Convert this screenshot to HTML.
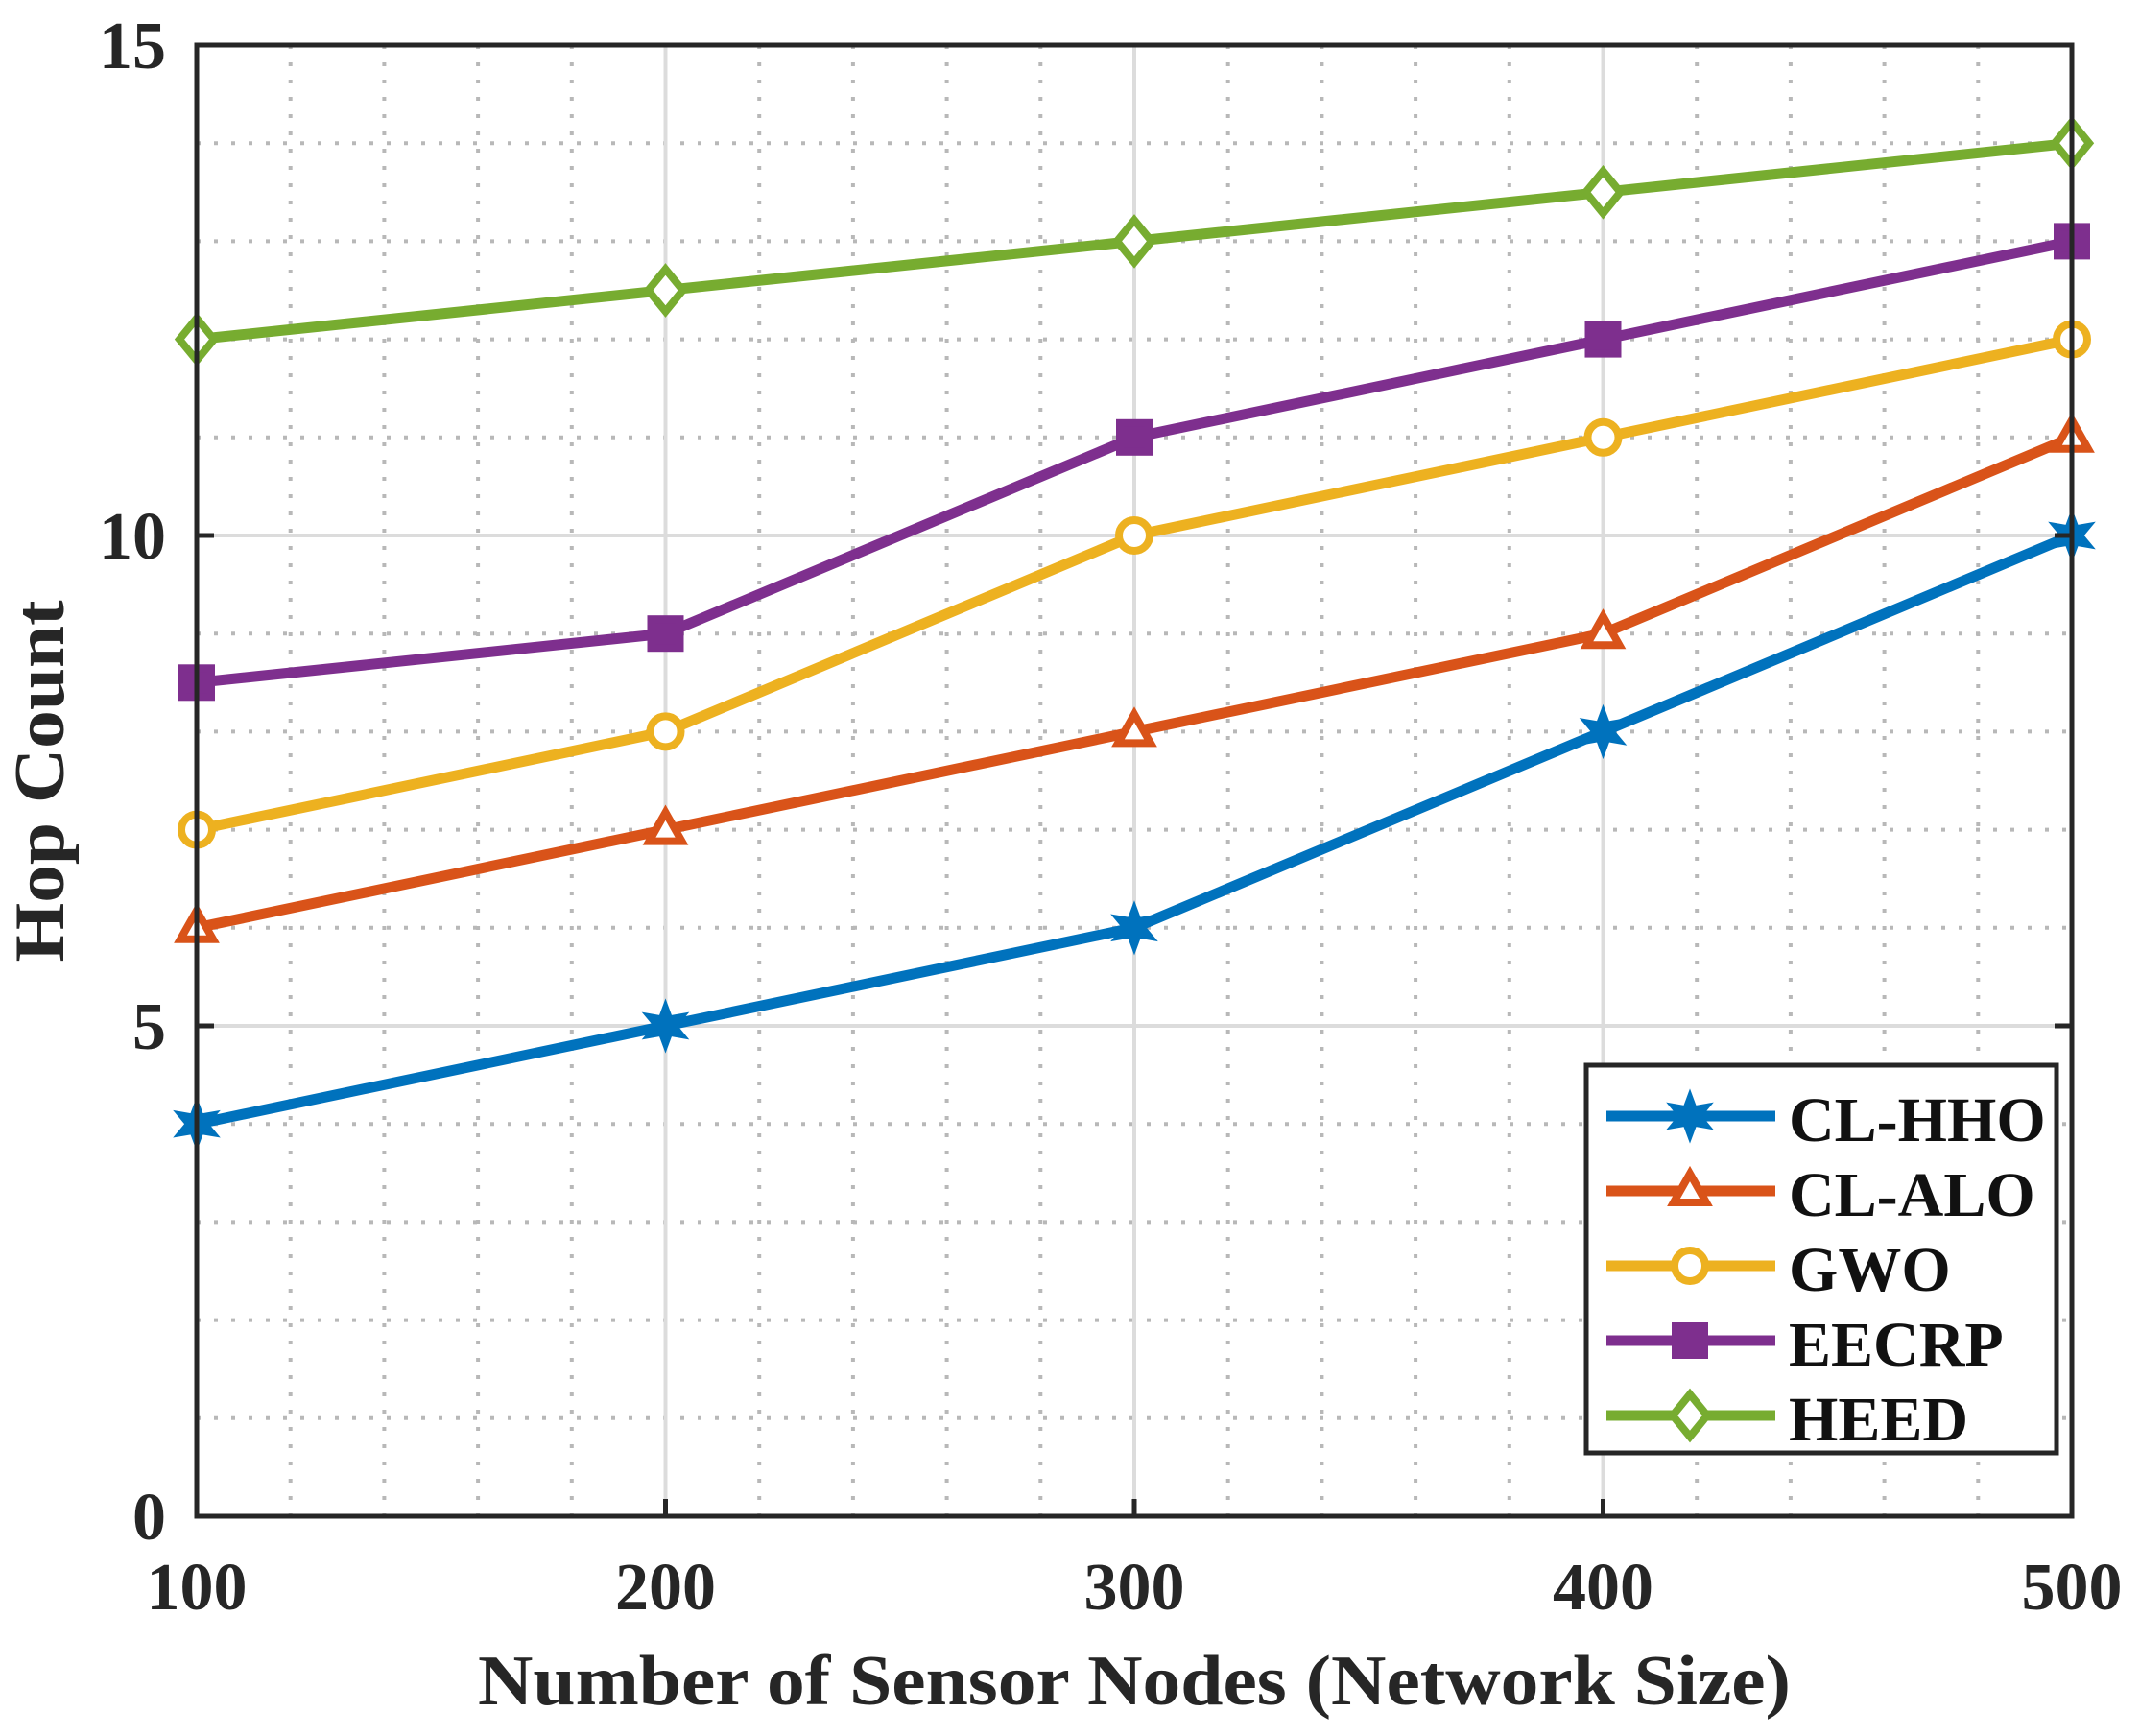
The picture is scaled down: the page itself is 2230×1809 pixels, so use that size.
<!DOCTYPE html>
<html><head><meta charset="utf-8"><style>
html,body{margin:0;padding:0;background:#fff;}
svg{display:block;font-family:"Liberation Serif",serif;font-weight:bold;}
</style></head><body>
<svg id="chart" width="2230" height="1809" viewBox="0 0 2230 1809">
<g id="grid"></g>
<g id="series"></g>
<rect x="205" y="47" width="1954" height="1533" fill="none" stroke="#262626" stroke-width="5"/>
<g id="ticks"></g>
<text x="1182" y="1776" font-size="74" text-anchor="middle" fill="#262626" textLength="1368" lengthAdjust="spacingAndGlyphs">Number of Sensor Nodes (Network Size)</text>
<text transform="translate(66,814) rotate(-90)" font-size="74" text-anchor="middle" fill="#262626" textLength="377" lengthAdjust="spacingAndGlyphs">Hop Count</text>
<g id="legend"></g>
</svg>
<script>
const categories=[100,200,300,400,500];
const seriesNames=["CL-HHO","CL-ALO","GWO","EECRP","HEED"];
const hhoValues=[4,5,6,8,10];
const aloValues=[6,7,8,9,11];
const gwoValues=[7,8,10,11,12];
const eecrpValues=[8.5,9,11,12,13];
const heedValues=[12,12.5,13,13.5,14];
const yTicks=[0,5,10,15];
const xTicks=[100,200,300,400,500];

const NS="http://www.w3.org/2000/svg";
const L=205,R=2159,T=47,B=1580;
const xs=v=>L+(v-100)/400*(R-L);
const ys=v=>B-v/15*(B-T);
function mk(tag,attrs,parent){const e=document.createElementNS(NS,tag);for(const k in attrs)e.setAttribute(k,attrs[k]);parent.appendChild(e);return e;}
const grid=document.getElementById('grid');
for(let v=120;v<500;v+=20){if(v%100===0)continue;
 const l=mk('line',{x1:xs(v),x2:xs(v),y1:T,y2:B,stroke:'#b8b8b8','stroke-width':4,'stroke-dasharray':'4 14'},grid);
 
 }
for(let v=1;v<15;v++){if(v%5===0)continue;
 const l=mk('line',{x1:L,x2:R,y1:ys(v),y2:ys(v),stroke:'#b8b8b8','stroke-width':4,'stroke-dasharray':'4 14'},grid);
 
 }
xTicks.forEach(v=>{const l=mk('line',{x1:xs(v),x2:xs(v),y1:T,y2:B,stroke:'#dcdcdc','stroke-width':4},grid);
 
 });
yTicks.forEach(v=>{const l=mk('line',{x1:L,x2:R,y1:ys(v),y2:ys(v),stroke:'#dcdcdc','stroke-width':4},grid);
 
 });
const ticks=document.getElementById('ticks');
xTicks.forEach(v=>{
 const m=mk('line',{x1:xs(v),x2:xs(v),y1:B,y2:B-18,stroke:'#262626','stroke-width':5},ticks);
 
 
 const t=mk('text',{x:xs(v),y:1677,'font-size':70,'text-anchor':'middle',fill:'#262626'},ticks);t.textContent=v;
 
 });
yTicks.forEach(v=>{
 const m=mk('line',{x1:L,x2:L+18,y1:ys(v),y2:ys(v),stroke:'#262626','stroke-width':5},ticks);
 
 
 const m2=mk('line',{x1:R,x2:R-18,y1:ys(v),y2:ys(v),stroke:'#262626','stroke-width':5},ticks);
 
 
 const t=mk('text',{x:173,y:ys(v)+24,'font-size':70,'text-anchor':'end',fill:'#262626'},ticks);t.textContent=v;
 
 });

const colors=['#0072BD','#D95319','#EDB120','#7E2F8E','#77AC30'];
const shapes=['star','tri','circ','sq','dia'];
function marker(shape,x,y,c,parent){
 let e;
 if(shape==='star'){let p=[];for(let i=0;i<12;i++){const r=i%2?9:20,a=Math.PI/6*i-Math.PI/2;p.push((x+r*Math.cos(a)).toFixed(1)+','+(y+r*Math.sin(a)).toFixed(1));}
  e=mk('polygon',{points:p.join(' '),fill:c,stroke:c,'stroke-width':6},parent);}
 else if(shape==='tri')e=mk('polygon',{points:`${x},${y-18} ${x+17},${y+12} ${x-17},${y+12}`,fill:'#fff',stroke:c,'stroke-width':8},parent);
 else if(shape==='circ')e=mk('circle',{cx:x,cy:y,r:16,fill:'#fff',stroke:c,'stroke-width':8},parent);
 else if(shape==='sq')e=mk('rect',{x:x-15,y:y-15,width:30,height:30,fill:c,stroke:c,'stroke-width':8},parent);
 else e=mk('polygon',{points:`${x},${y-22} ${x+18},${y} ${x},${y+22} ${x-18},${y}`,fill:'#fff',stroke:c,'stroke-width':8},parent);
 return e;}
const sg=document.getElementById('series');
const allVals=[hhoValues,aloValues,gwoValues,eecrpValues,heedValues];
allVals.forEach((vals,si)=>{
 const g=mk('g',{},sg);
 
 
 const pl=mk('polyline',{points:vals.map((v,i)=>xs(categories[i])+','+ys(v)).join(' '),fill:'none',stroke:colors[si],'stroke-width':11,'stroke-linejoin':'round'},g);
 
 
 vals.forEach((v,i)=>{const m=marker(shapes[si],xs(categories[i]),ys(v),colors[si],g);
  
  });
});
const lg=document.getElementById('legend');
const box=mk('rect',{x:1653,y:1110,width:490,height:404,fill:'#fff',stroke:'#262626','stroke-width':5},lg);


seriesNames.forEach((n,i)=>{
 const y=1163+i*78;
 const g=mk('g',{},lg);
 
 
 mk('line',{x1:1674,x2:1850,y1:y,y2:y,stroke:colors[i],'stroke-width':11},g);
 marker(shapes[i],1761,y,colors[i],g);
 const t=mk('text',{x:1864,y:y+26,'font-size':66,fill:'#111'},g);t.textContent=n;
});
</script>
</body></html>
